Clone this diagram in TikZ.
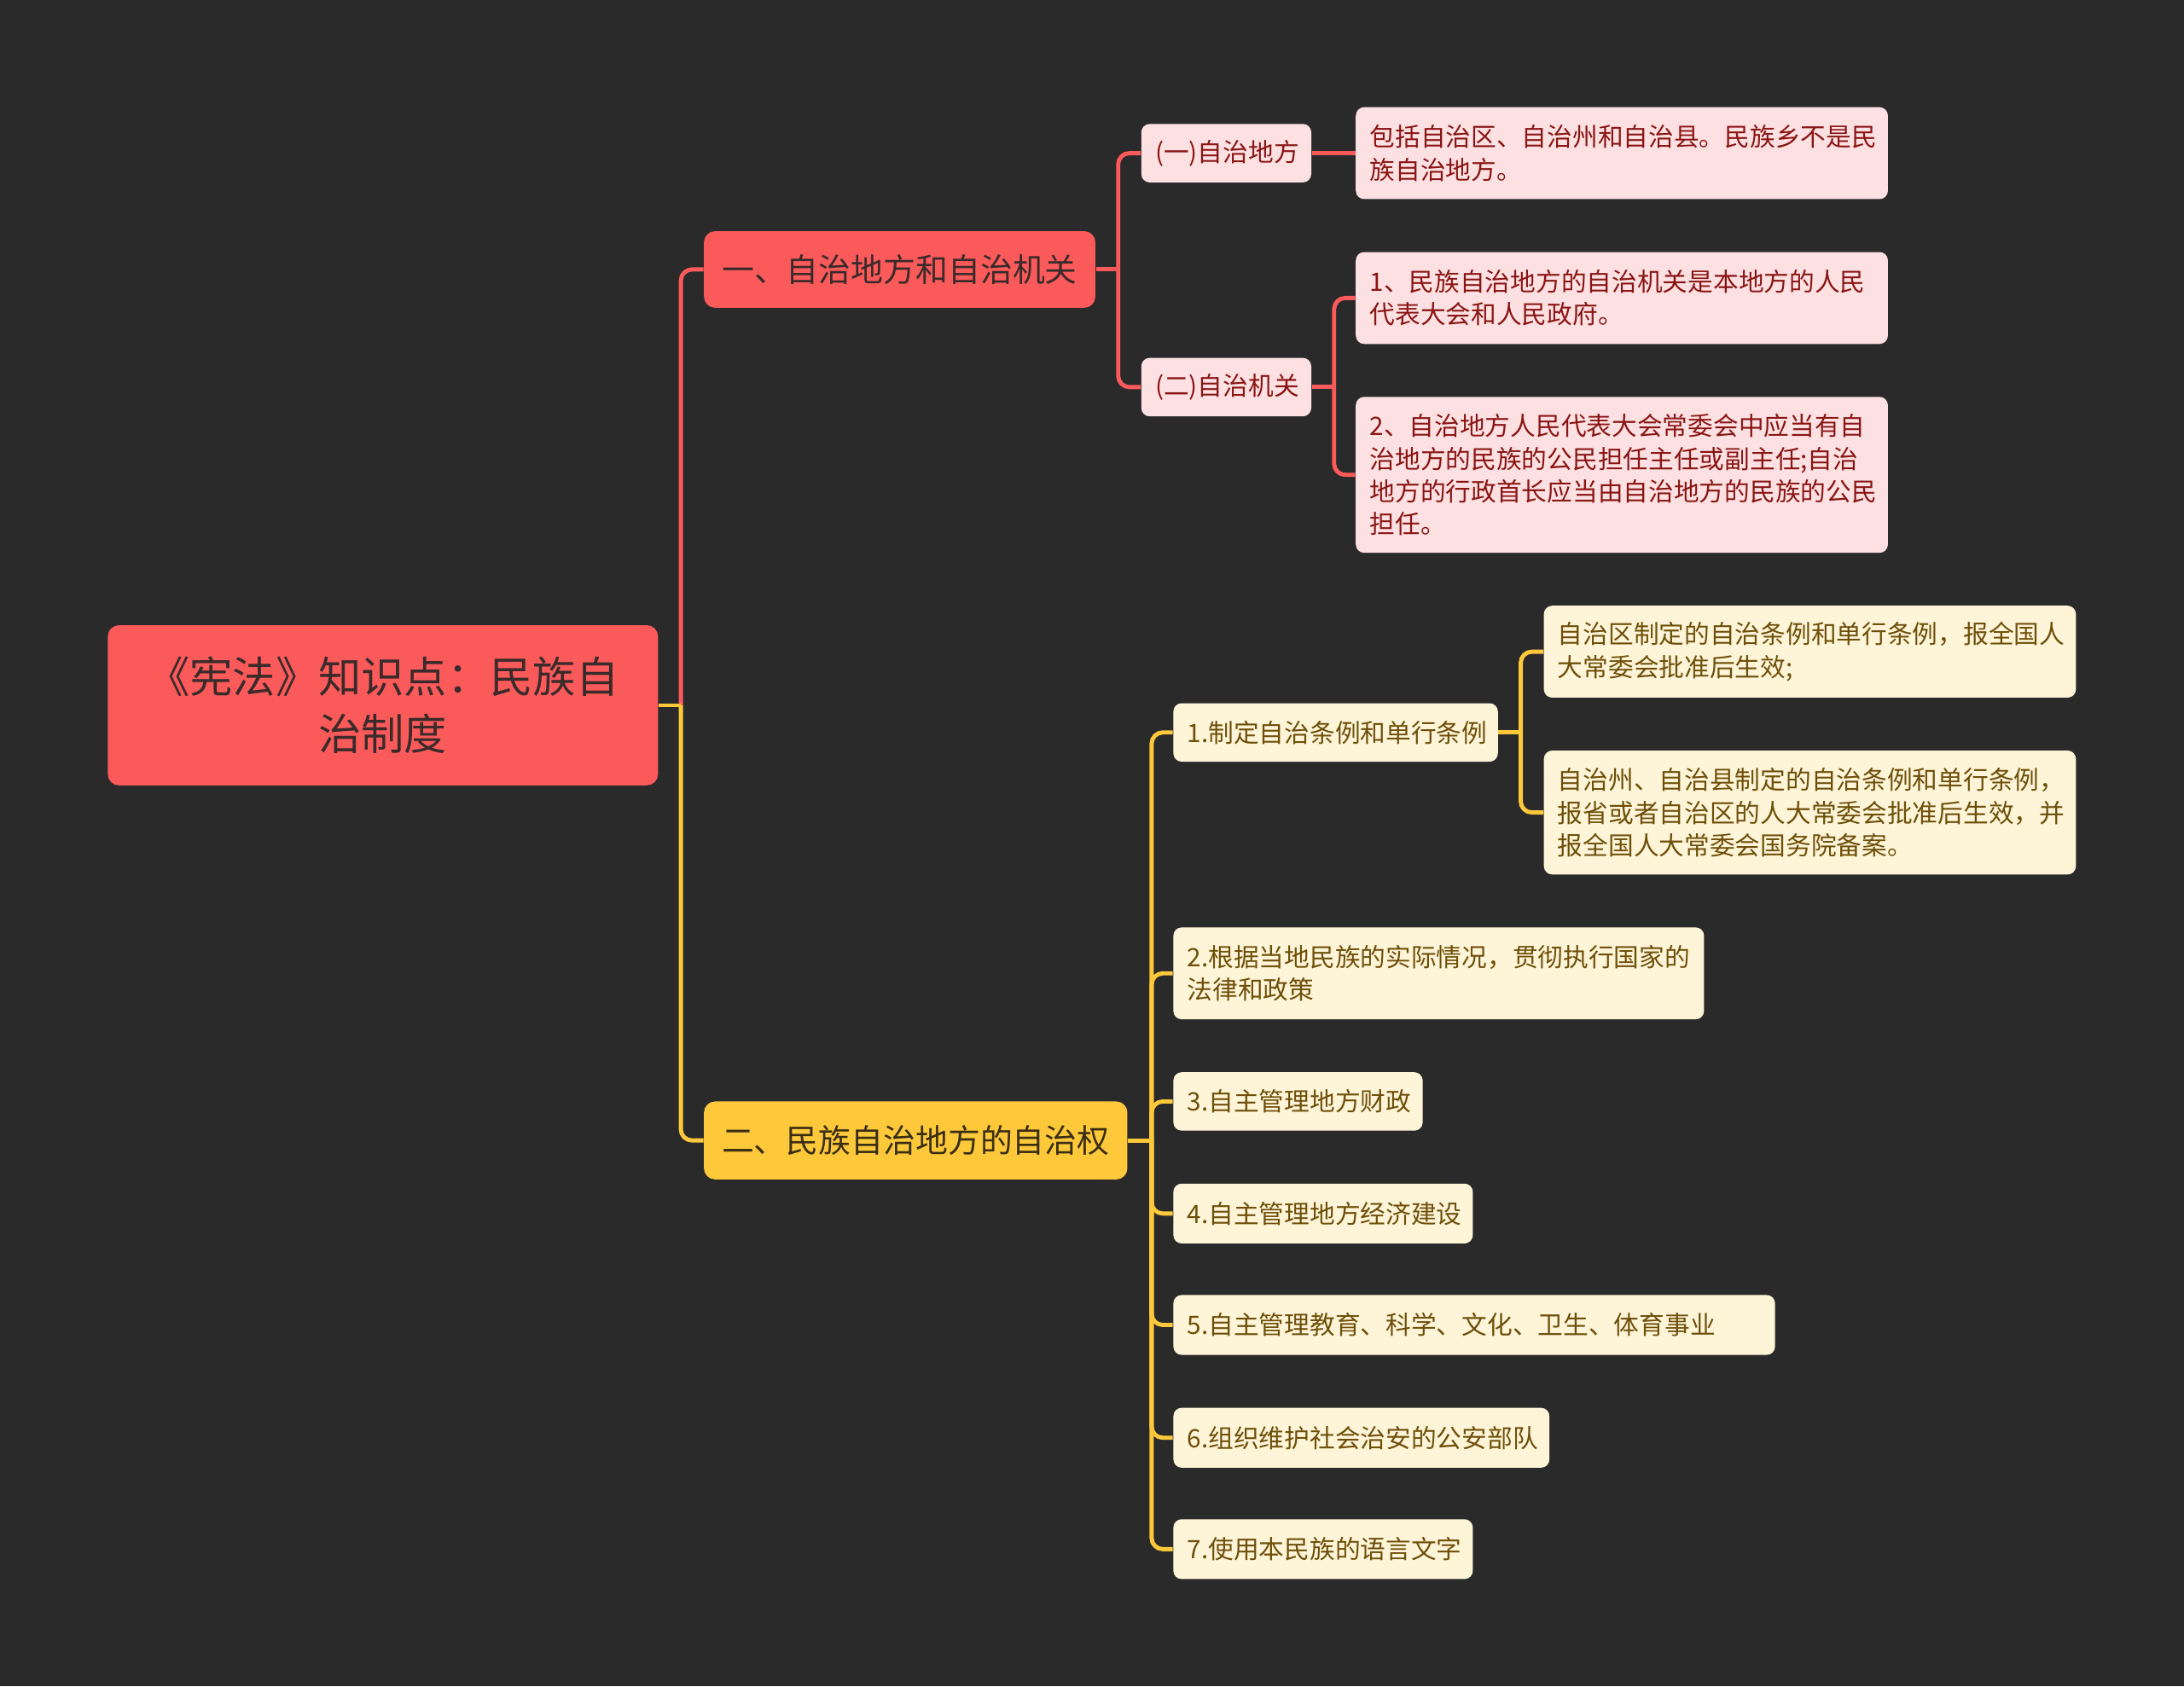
\documentclass[tikz,border=0pt]{standalone}
\usepackage{fontspec}
\setmainfont{Noto Sans CJK SC}
\usetikzlibrary{calc}
\definecolor{bgc}{HTML}{2A2A2A}
\definecolor{redc}{HTML}{FB5A5B}
\definecolor{yelc}{HTML}{FDC93B}
\definecolor{pinkc}{HTML}{FDE1E2}
\definecolor{pinkt}{HTML}{8A1515}
\definecolor{creamc}{HTML}{FEF5D8}
\definecolor{creamt}{HTML}{6E4F0A}
\definecolor{darkt}{HTML}{3A2A2A}
\definecolor{darky}{HTML}{3A2E12}
\begin{document}
\begin{tikzpicture}[x=0.5pt,y=-0.5pt,
  bx/.style={anchor=west, inner xsep=5pt, inner ysep=0pt, rounded corners=3pt, align=left,
    font=\fontsize{9.1}{11.7}\selectfont},
  pinkbox/.style={bx, fill=pinkc, text=pinkt},
  creambox/.style={bx, fill=creamc, text=creamt},
  topbox/.style={anchor=west, inner xsep=6pt, inner ysep=0pt, rounded corners=4pt, align=center,
    font=\fontsize{11.6}{15}\selectfont},
  rootbox/.style={anchor=west, inner xsep=5pt, inner ysep=0pt, rounded corners=4pt, align=center,
    fill=redc, text=darkt, font=\fontsize{15.4}{20.5}\selectfont},
  redline/.style={draw=redc, line width=1.5pt},
  yelline/.style={draw=yelc, line width=1.5pt},
  rc/.style={rounded corners=4pt}]
\fill[bgc] (0,0) rectangle (1568,1211);
\useasboundingbox (0,0) rectangle (1568,1211);

% nodes
\node[rootbox, text width=187.5pt, minimum height=57.5pt] (root) at (77,506.5) {《宪法》知识点：民族自\\治制度};
\node[topbox, fill=redc, text=darkt, text width=128.5pt, minimum height=27.5pt] (l1a) at (505,193.5) {一、自治地方和自治机关};
\node[topbox, fill=yelc, text=darky, text width=140pt, minimum height=28pt] (l1b) at (505,819) {二、民族自治地方的自治权};

\node[pinkbox, text width=51pt, minimum height=21pt] (l2a) at (819,110) {(一)自治地方};
\node[pinkbox, text width=51pt, minimum height=21pt] (l2b) at (819,278) {(二)自治机关};

\node[pinkbox, text width=181pt, minimum height=33pt] (l3a) at (973,110) {包括自治区、自治州和自治县。民族乡不是民\\族自治地方。};
\node[pinkbox, text width=181pt, minimum height=33pt] (l3b) at (973,214) {1、民族自治地方的自治机关是本地方的人民\\代表大会和人民政府。};
\node[pinkbox, text width=181pt, minimum height=56pt] (l3c) at (973,341) {2、自治地方人民代表大会常委会中应当有自\\治地方的民族的公民担任主任或副主任;自治\\地方的行政首长应当由自治地方的民族的公民\\担任。};

\node[creambox, text width=106.5pt, minimum height=21pt] (y1) at (842,526) {1.制定自治条例和单行条例};
\node[creambox, text width=181pt, minimum height=33pt] (y1a) at (1108,468) {自治区制定的自治条例和单行条例，报全国人\\大常委会批准后生效;};
\node[creambox, text width=181pt, minimum height=44.5pt] (y1b) at (1108,583.5) {自治州、自治县制定的自治条例和单行条例，\\报省或者自治区的人大常委会批准后生效，并\\报全国人大常委会国务院备案。};
\node[creambox, text width=180.5pt, minimum height=33pt] (y2) at (842,699) {2.根据当地民族的实际情况，贯彻执行国家的\\法律和政策};
\node[creambox, text width=79.5pt, minimum height=21pt] (y3) at (842,791) {3.自主管理地方财政};
\node[creambox, text width=97.5pt, minimum height=21.5pt] (y4) at (842,871.5) {4.自主管理地方经济建设};
\node[creambox, text width=206pt, minimum height=21.5pt] (y5) at (842,951.5) {5.自主管理教育、科学、文化、卫生、体育事业};
\node[creambox, text width=125pt, minimum height=21.5pt] (y6) at (842,1032.5) {6.组织维护社会治安的公安部队};
\node[creambox, text width=97.5pt, minimum height=21.5pt] (y7) at (842,1112.5) {7.使用本民族的语言文字};

% junctions
\path (root.east) ++(16,0) coordinate (jr);
\path (l1a.east) ++(16,0) coordinate (ja);
\path (l2b.east) ++(16,0) coordinate (jb);
\path (l1b.east) ++(17,0) coordinate (jc);
\path (y1.east) ++(16,0) coordinate (jd);

% connectors: red branch
\draw[redline, rc] (jr) |- (l1a.west);
\draw[redline] (l1a.east) -- (ja);
\draw[redline, rc] (ja) |- (l2a.west);
\draw[redline, rc] (ja) |- (l2b.west);
\draw[redline] (l2a.east) -- (l3a.west);
\draw[redline] (l2b.east) -- (jb);
\draw[redline, rc] (jb) |- (l3b.west);
\draw[redline, rc] (jb) |- (l3c.west);

% connectors: yellow branch
\draw[yelline] (root.east) -- (jr);
\draw[yelline, rc] (jr) |- (l1b.west);
\draw[yelline] (l1b.east) -- (jc);
\foreach \n in {y1,y2,y3,y4,y5,y6,y7} {
  \draw[yelline, rc] (jc) |- (\n.west);
}
\draw[yelline] (y1.east) -- (jd);
\draw[yelline, rc] (jd) |- (y1a.west);
\draw[yelline, rc] (jd) |- (y1b.west);
\end{tikzpicture}
\end{document}
